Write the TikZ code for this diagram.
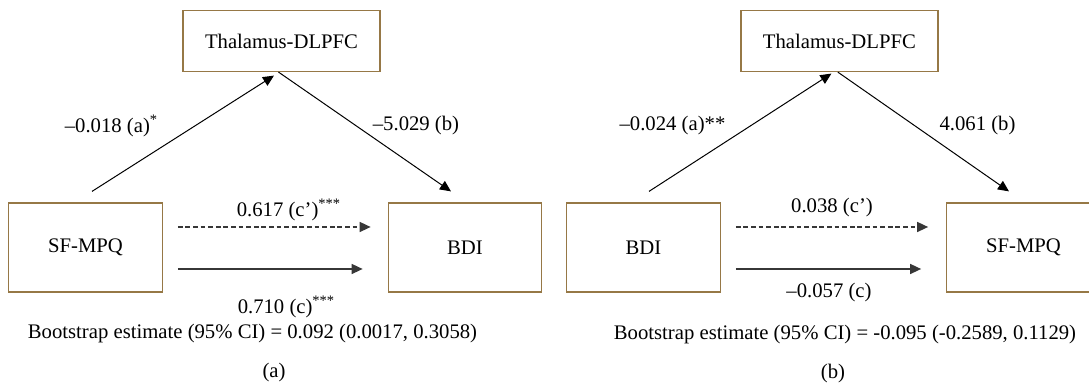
\documentclass[tikz,border=0pt]{standalone}
\usepackage{fontspec}
\setmainfont{Liberation Serif}
\usepackage{tikz}
\usetikzlibrary{arrows,arrows.meta}
\usetikzlibrary{calc}
\definecolor{rahmen}{RGB}{150,120,70}
\definecolor{grau}{RGB}{55,55,55}

\begin{document}
\begin{tikzpicture}[x=0.5pt, y=-0.5pt, font=\fontsize{10.35}{12}\selectfont,
    var/.style={draw=rahmen, line width=0.6pt, minimum width=76.75pt, minimum height=44.5pt},
    mediator/.style={var, minimum width=98.5pt, minimum height=30.5pt},
    pfad/.style={line width=0.5pt, -{Triangle[length=5.5pt, width=5pt]}},
    direkt/.style={pfad, grau, line width=0.75pt},
    indirekt/.style={direkt, dash pattern=on 2.4pt off 1.4pt}]

    \useasboundingbox (0, 0) rectangle (1089, 383);

    % (a)
    \node[mediator] (thA) at (281.5, 41) {Thalamus-DLPFC};
    \node[var] (sfA) at (85.5, 247.5) {SF-MPQ};
    \node[var] (bdiA) at (465, 247.5) {BDI};

    \draw[pfad] ([shift={(6.5,-11)}]sfA.north) -- ([shift={(-7.5,3.5)}]thA.south);
    \draw[pfad] ([shift={(-3,0)}]thA.south) -- ([shift={(-14,-11)}]bdiA.north);
    \draw[indirekt] ([shift={(15,-20.5)}]sfA.east) -- ([shift={(-17,-20.5)}]bdiA.west);
    \draw[direkt] ([shift={(15,21.5)}]sfA.east) -- ([shift={(-25,21.5)}]bdiA.west);

    \node (aA) at (111.5, 126) {--0.018 (a)\textsuperscript{*}};
    \node (bA) at (416, 126) {--5.029 (b)};
    \node (cstrA) at (289, 210) {0.617 (c’)\textsuperscript{***}};
    \node (cA) at (286.5, 307) {0.710 (c)\textsuperscript{***}};
    \node (bootA) at (252.5, 334) {Bootstrap estimate (95\% CI) = 0.092 (0.0017, 0.3058)};
    \node (capA) at (274, 373) {(a)};

    % (b)
    \node[mediator] (thB) at (839.4, 41) {Thalamus-DLPFC};
    \node[var] (bdiB) at (643.5, 247.5) {BDI};
    \node[var] (sfB) at (1023.5, 247.5) {SF-MPQ};

    \draw[pfad] ([shift={(5.5,-11)}]bdiB.north) -- ([shift={(-8,1.5)}]thB.south);
    \draw[pfad] ([shift={(-1.6,0)}]thB.south) -- ([shift={(-14.5,-11)}]sfB.north);
    \draw[indirekt] ([shift={(15,-20.5)}]bdiB.east) -- ([shift={(-18,-20.5)}]sfB.west);
    \draw[direkt] ([shift={(15,21.5)}]bdiB.east) -- ([shift={(-25,21.5)}]sfB.west);

    \node (aB) at (672.5, 126) {--0.024 (a)**};
    \node (bB) at (977.5, 126) {4.061 (b)};
    \node (cstrB) at (832, 208) {0.038 (c’)};
    \node (cB) at (829, 292.5) {--0.057 (c)};
    \node (bootB) at (845, 335) {Bootstrap estimate (95\% CI) = -0.095 (-0.2589, 0.1129)};
    \node (capB) at (833, 374) {(b)};

\end{tikzpicture}
\end{document}
